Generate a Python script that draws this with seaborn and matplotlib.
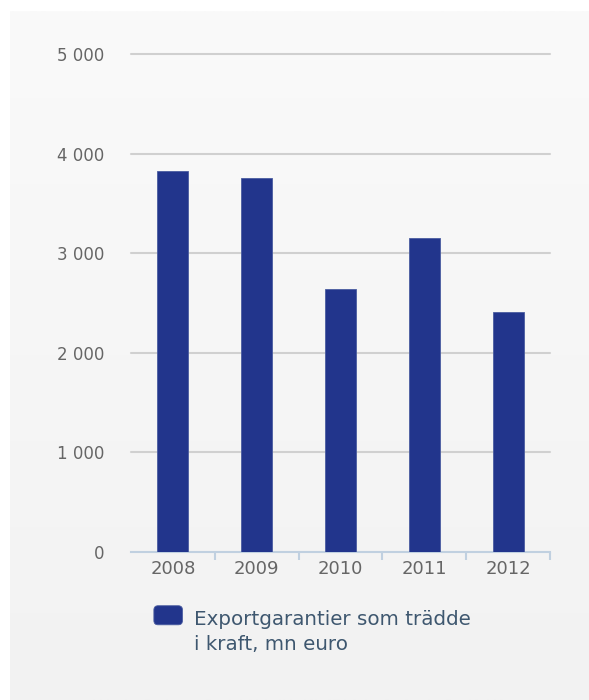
import numpy as np
import pandas as pd
import matplotlib
matplotlib.use("Agg")
import matplotlib.pyplot as plt
import seaborn as sns
from matplotlib.ticker import FuncFormatter, FixedLocator
from matplotlib.patches import FancyBboxPatch
from matplotlib.legend_handler import HandlerPatch
from matplotlib.container import BarContainer

years = ["2008", "2009", "2010", "2011", "2012"]
values = [3830, 3760, 2640, 3150, 2410]
series_label = "Exportgarantier som trädde\ni kraft, mn euro"

data = pd.DataFrame({"year": years, "value": values})

sns.set_style("white")
plt.rcParams["font.family"] = ["DejaVu Sans"]

fig = plt.figure(figsize=(5.89, 7.0), dpi=100)
fig.patch.set_facecolor("white")

# light grey panel with a soft vertical gradient
bg = fig.add_axes([10 / 589, 0, 1 - 10 / 589, 1 - 11 / 700], zorder=-5)
grad = np.linspace(0, 1, 256).reshape(-1, 1)
bg.imshow(grad, aspect="auto", cmap=matplotlib.colors.LinearSegmentedColormap.from_list(
    "bg", ["#fafafa", "#f2f2f2"]), extent=[0, 1, 0, 1], origin="upper")
bg.set_axis_off()

ax = fig.add_axes([131 / 589, 1 - 552 / 700, (550 - 131) / 589, (552 - 54) / 700])
ax.set_facecolor("none")

sns.barplot(data=data, x="year", y="value", color="#22358c", width=0.37,
            saturation=1, label=series_label, ax=ax, zorder=3,
            edgecolor="#4a5ca0", linewidth=0.6)

ax.set_ylim(0, 5000)
ax.set_xlim(-0.5, 4.5)
for y in range(1000, 5001, 1000):
    ax.axhline(y, color="#d0d0d0", linewidth=1.5, zorder=1, clip_on=False)

for s in ["top", "right", "left"]:
    ax.spines[s].set_visible(False)
ax.spines["bottom"].set_color("#c0d0e0")
ax.spines["bottom"].set_linewidth(1.5)

ax.set_yticks(range(0, 5001, 1000))
ax.yaxis.set_major_formatter(FuncFormatter(lambda v, p: f"{int(v):,}".replace(",", " ")))
ax.tick_params(axis="y", length=0, pad=19, labelsize=12, labelcolor="#666666")
ax.tick_params(axis="x", which="major", bottom=False, length=0, pad=6,
               labelsize=13, labelcolor="#666666")
ax.xaxis.set_minor_locator(FixedLocator([0.5, 1.5, 2.5, 3.5, 4.5]))
ax.tick_params(axis="x", which="minor", bottom=True, length=6, width=1.5,
               color="#c0d0e0", direction="out")
ax.set_xlabel("")
ax.set_ylabel("")


def rounded_box(legend, orig_handle, xdescent, ydescent, width, height, fontsize):
    # square aligned with the first line of the label
    return FancyBboxPatch((-xdescent, -ydescent + 12.5), width, height,
                          boxstyle="round,pad=0,rounding_size=3")


def copy_first_bar(target, source):
    target.set_facecolor(source.patches[0].get_facecolor())
    target.set_edgecolor(source.patches[0].get_edgecolor())
    target.set_linewidth(0.6)


leg = ax.legend(loc="upper left", bbox_to_anchor=(136 / 589, 1 - 592 / 700),
                bbox_transform=fig.transFigure, frameon=False, fontsize=14.3,
                handlelength=1.44, handleheight=1.1, handletextpad=0.58,
                handler_map={BarContainer: HandlerPatch(patch_func=rounded_box,
                                                        update_func=copy_first_bar)})
for t in leg.get_texts():
    t.set_color("#3e576f")
    t.set_linespacing(1.4)

fig.savefig("out.png", dpi=100)
